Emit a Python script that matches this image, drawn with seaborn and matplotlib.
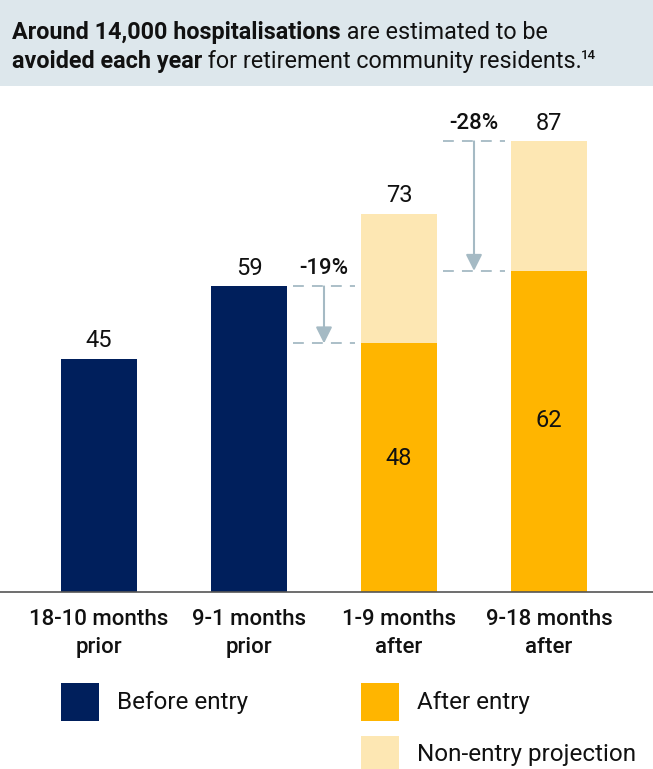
import numpy as np
import pandas as pd
import matplotlib
matplotlib.use("Agg")
import matplotlib.pyplot as plt
from matplotlib.patches import Rectangle
import seaborn as sns

# ---- data -------------------------------------------------------------
periods = ["18-10 months\nprior", "9-1 months\nprior", "1-9 months\nafter", "9-18 months\nafter"]
before_entry = [45, 59, None, None]
after_entry = [None, None, 48, 62]
non_entry_projection = [None, None, 73, 87]
change_labels = ["-19%", "-28%"]
change_from = [59, 87]
change_to = [48, 62]
legend_labels = ["Before entry", "After entry", "Non-entry projection"]

NAVY = "#001F5C"
ORANGE = "#FFB500"
LIGHT = "#FDE7B3"
ARROW = "#A5BAC4"
HEADER_BG = "#DDE7EC"
TEXT = "#111111"

sns.set_style("white")
plt.rcParams["font.family"] = ["Roboto", "DejaVu Sans"]

W, H = 653, 769
fig = plt.figure(figsize=(W / 100, H / 100), dpi=100)


def fx(px):
    return px / W


def fy(py):
    return 1 - py / H


# plot area: baseline at y=592 px, bar pitch 150 px
ax = fig.add_axes([0, fy(592), 1, fy(90) - fy(592)])

def frame(values, name):
    return pd.DataFrame({"period": periods, "value": values, "segment": name}).dropna()

proj_df = frame(non_entry_projection, "proj")
after_df = frame(after_entry, "after")
before_df = frame(before_entry, "before")

bar_w = 76 / 150
for df, col in [(proj_df, LIGHT), (after_df, ORANGE), (before_df, NAVY)]:
    sns.barplot(data=df, x="period", y="value", order=periods, color=col,
                saturation=1, errorbar=None, width=bar_w, ax=ax, linewidth=0)

ax.set_xlim(-99 / 150, (W - 99) / 150)
ax.set_ylim(0, (592 - 90) / 5.18)
ax.set_xlabel("")
ax.set_ylabel("")
ax.set_yticks([])
for s in ["top", "right", "left"]:
    ax.spines[s].set_visible(False)
ax.spines["bottom"].set_color("#555555")
ax.spines["bottom"].set_linewidth(1.2)
ax.tick_params(axis="x", length=0, pad=12)
ax.set_xticks(range(len(periods)))
ax.set_xticklabels(periods, fontsize=16, fontweight="medium", color=TEXT,
                   linespacing=1.45)

# value labels above bars
tops = [b if b is not None else p for b, p in zip(before_entry, non_entry_projection)]
for i, v in enumerate(tops):
    ax.annotate(f"{v}", (i, v), xytext=(0, 13), textcoords="offset points",
                ha="center", va="center", fontsize=17, color=TEXT)

# value labels inside the after-entry bars
for i, v in enumerate(after_entry):
    if v is not None:
        ax.text(i, v * 0.535, f"{v}", ha="center", va="center", fontsize=17, color=TEXT)

# reduction markers between bars
for k, (lab, y0, y1) in enumerate(zip(change_labels, change_from, change_to)):
    xc = 1.5 + k
    half = 0.205
    for yy in (y0, y1):
        ax.plot([xc - half, xc + half], [yy, yy], color=ARROW, lw=1.3,
                dashes=(6, 4.5), solid_capstyle="butt")
    ax.annotate("", xy=(xc, y1), xytext=(xc, y0),
                arrowprops=dict(arrowstyle="-|>,head_length=0.7,head_width=0.35",
                                color=ARROW, lw=1.5, shrinkA=0, shrinkB=0,
                                mutation_scale=14))
    ax.annotate(lab, (xc, y0), xytext=(0, 13), textcoords="offset points",
                ha="center", va="center", fontsize=16, fontweight="medium",
                color=TEXT)

# header band with mixed-weight text
fig.patches.append(Rectangle((0, fy(86)), 1, 1 - fy(86), transform=fig.transFigure,
                             facecolor=HEADER_BG, edgecolor="none", zorder=0))
renderer = fig.canvas.get_renderer()


def run(parts, x_px, base_px, size=16.8):
    x = x_px
    for txt, weight in parts:
        t = fig.text(fx(x), fy(base_px), txt, fontsize=size, fontweight=weight,
                     color=TEXT, va="baseline", ha="left")
        x += t.get_window_extent(renderer).width
    return x

run([("Around 14,000 hospitalisations", "bold"), (" are estimated to be", "normal")], 12, 39)
xe = run([("avoided each year", "bold"), (" for retirement community residents.", "normal")], 12, 68)
fig.text(fx(xe - 1), fy(68 - 9), "14", fontsize=9.5, fontweight="medium", color=TEXT,
         va="baseline", ha="left")

# legend
legend_items = [(61, 683, NAVY, legend_labels[0], 117, 702),
                (361, 683, ORANGE, legend_labels[1], 417, 702),
                (361, 736, LIGHT, legend_labels[2], 417, 755)]
for x0, y0, col, lab, tx, ty in legend_items:
    fig.patches.append(Rectangle((fx(x0), fy(y0 + 38)), 38 / W, 38 / H,
                                 transform=fig.transFigure, facecolor=col,
                                 edgecolor="none"))
    fig.text(fx(tx), fy(ty), lab, fontsize=17.5, color=TEXT, va="center", ha="left")

fig.savefig("out.png", dpi=100)
